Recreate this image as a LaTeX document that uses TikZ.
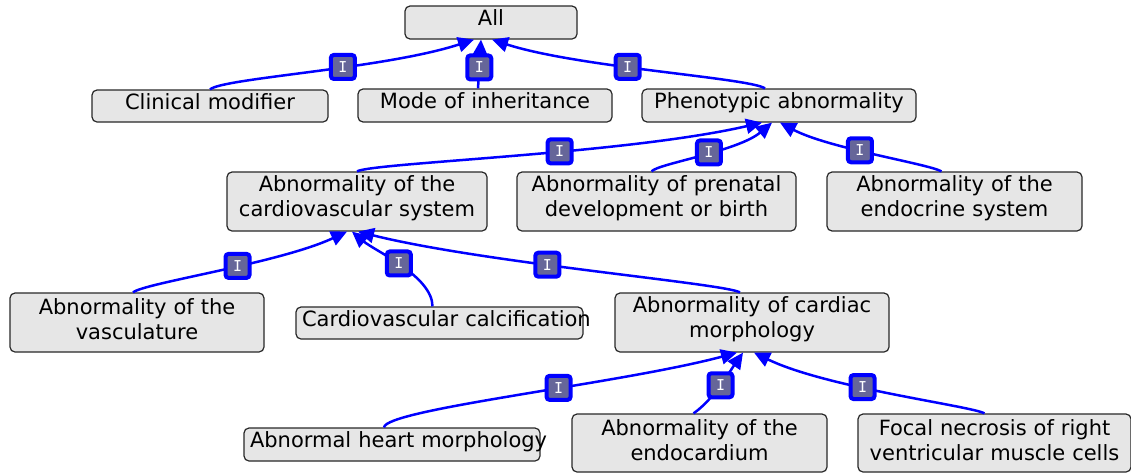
\documentclass[tikz,border=0pt]{standalone}
\usepackage{fontspec}
\setmainfont{DejaVu Sans}
\newfontfamily\tagfont{DejaVu Sans Mono}
\usepackage{tikz}
\usetikzlibrary{arrows.meta}

\definecolor{boxfill}{RGB}{230,230,230}
\definecolor{boxline}{RGB}{40,40,40}
\definecolor{tagfill}{RGB}{102,102,153}

\tikzset{
	term/.style={shape=rectangle, rounded corners=5pt, draw=boxline, line width=1.2pt, fill=boxfill,
		inner xsep=6pt, inner ysep=0pt, align=center, font=\fontsize{21}{25}\selectfont},
	single/.style={term, text depth=9.5pt},
	double/.style={term, text height=9.5pt},
	isa/.style={draw=blue, line width=2.5pt, -{Triangle[length=16pt,width=15pt]}},
	tag/.style={shape=rectangle, rounded corners=3pt, draw=blue, line width=4pt, fill=tagfill,
		minimum size=24pt, inner sep=0pt, text=white, font=\tagfont\fontsize{15}{15}\selectfont}
}

\begin{document}
\begin{tikzpicture}[x=1pt, y=1pt]
	
	\useasboundingbox (0,0) rectangle (1131,-472);
	
	\node[single, text width=160pt, minimum height=33pt] (all) at (491, -22.5) {All};
	\node[single, text width=224pt, minimum height=32pt] (clin) at (210, -106) {Clinical modifier};
	\node[single, text width=242pt, minimum height=33pt] (mode) at (485, -105.5) {Mode of inheritance};
	\node[single, text width=262pt, minimum height=33pt] (pheno) at (779, -105.5) {Phenotypic abnormality};
	\node[double, text width=248pt, minimum height=59pt] (cardio) at (357, -201.5) {Abnormality of the\\cardiovascular system};
	\node[double, text width=267pt, minimum height=59pt] (prenatal) at (656.5, -201.5) {Abnormality of prenatal\\development or birth};
	\node[double, text width=243pt, minimum height=59pt] (endo) at (954.5, -201.5) {Abnormality of the\\endocrine system};
	\node[double, text width=242pt, minimum height=59pt] (vasc) at (137, -322.5) {Abnormality of the\\vasculature};
	\node[single, text width=275pt, minimum height=32pt] (calc) at (439.5, -323) {\mbox{Cardiovascular calcification}};
	\node[double, text width=262pt, minimum height=59pt] (cmorph) at (752, -322.5) {Abnormality of cardiac\\morphology};
	\node[single, text width=284pt, minimum height=33pt] (heart) at (392, -444.5) {\mbox{Abnormal heart morphology}};
	\node[double, text width=243pt, minimum height=58pt] (endocard) at (699.5, -443) {Abnormality of the\\endocardium};
	\node[double, text width=261pt, minimum height=58pt] (focal) at (994.5, -443) {Focal necrosis of right\\ventricular muscle cells};
	
	\path (clin.north) edge[isa, out=40, in=198, out looseness=0.17, in looseness=0.9] node[tag, pos=0.59]{I} ([xshift=-17pt]all.south);
	\path ([xshift=-7pt]mode.north) edge[isa] node[tag, pos=0.43]{I} ([xshift=-10pt]all.south);
	\path ([xshift=-14pt]pheno.north) edge[isa, out=145, in=-18, out looseness=0.17, in looseness=0.83] node[tag, pos=0.58]{I} ([xshift=1pt]all.south);
	
	\path (cardio.north) edge[isa, out=30, in=193, out looseness=0.11, in looseness=0.88] node[tag, pos=0.59]{I} ([xshift=-17pt]pheno.south);
	\path ([xshift=-5pt]prenatal.north) edge[isa, out=50, in=220, out looseness=0.2, in looseness=0.88] node[tag, pos=0.55]{I} ([xshift=-7pt]pheno.south);
	\path ([xshift=-13pt]endo.north) edge[isa, out=150, in=-28, out looseness=0.23, in looseness=0.83] node[tag, pos=0.57]{I} ([xshift=1pt]pheno.south);
	
	\path ([xshift=-4pt]vasc.north) edge[isa, out=40, in=205, out looseness=0.17, in looseness=0.86] node[tag, pos=0.57]{I} ([xshift=-10pt]cardio.south);
	\path ([xshift=-7pt]calc.north) edge[isa, out=90, in=-40, looseness=0.7] node[tag, pos=0.52]{I} ([xshift=-5pt]cardio.south);
	\path ([xshift=-12pt]cmorph.north) edge[isa, out=150, in=-14, out looseness=0.12, in looseness=0.86] node[tag, pos=0.59]{I} ([xshift=1pt]cardio.south);
	
	\path ([xshift=-8pt]heart.north) edge[isa, out=85, in=195, out looseness=0.13, in looseness=0.85] node[tag, pos=0.59]{I} ([xshift=-15pt]cmorph.south);
	\path ([xshift=-6pt]endocard.north) edge[isa, out=35, in=235, looseness=0.8] node[tag]{I} ([xshift=-9pt]cmorph.south);
	\path ([xshift=-10pt]focal.north) edge[isa, out=150, in=-26, out looseness=0.16, in looseness=0.86] node[tag, pos=0.6]{I} ([xshift=2pt]cmorph.south);
	
\end{tikzpicture}
\end{document}
